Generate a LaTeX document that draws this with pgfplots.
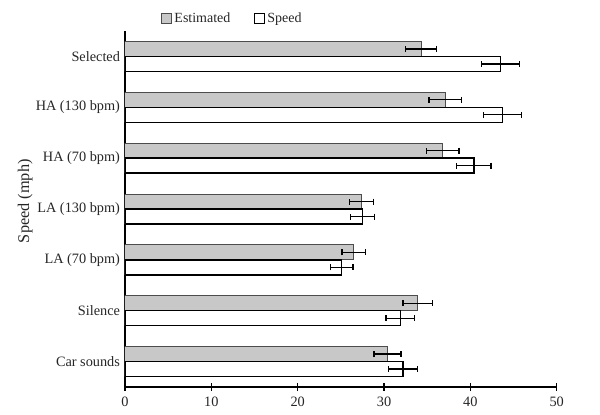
\documentclass[border=0pt]{standalone}
\usepackage{pgfplots}
\pgfplotsset{compat=1.18}
\usepackage{fontspec}
\setmainfont{Liberation Serif}
\definecolor{estgray}{RGB}{200,200,200}
\begin{document}
\begin{tikzpicture}
\begin{axis}[
  name=ax,
  at={(0,0)}, anchor=south west,
  width=431.7bp, height=356bp, scale only axis,
  xbar, bar width=15bp,
  xmin=0, xmax=50,
  ymin=-0.5, ymax=6.5,
  axis x line=bottom, axis y line=left,
  axis line style={-, line width=1.3bp},
  xtick={0,10,...,50},
  ytick={0,1,2,3,4,5,6},
  yticklabels={Car sounds,Silence,LA (70 bpm),LA (130 bpm),HA (70 bpm),HA (130 bpm),Selected},
  minor ytick={-0.5,0.5,...,6.5},
  ytick style={draw=none},
  minor tick length=6bp,
  major tick length=7bp,
  tick align=center,
  xtick style={line width=1.3bp, black},
  minor tick style={line width=1.3bp, black, draw},
  /pgf/number format/assume math mode=true,
  every tick label/.append style={font=\fontsize{14.3bp}{16bp}\selectfont, text=black!85},
  yticklabel style={xshift=2bp},
  xticklabel style={yshift=-3bp},
  ylabel={Speed (mph)},
  ylabel style={at={(axis description cs:-0.231,0.522)}, anchor=center, font=\fontsize{16.3bp}{18bp}\selectfont, text=black!85},
  legend columns=2,
  legend style={at={(rel axis cs:0.084,1.035)}, anchor=west, draw=none, fill=none, inner sep=0pt,
    font=\fontsize{14bp}{16bp}\selectfont, text=black!85,
    /tikz/every even column/.append style={column sep=22bp}},
  legend image code/.code={\draw[#1, line width=1bp] (0bp,-5bp) rectangle (10bp,5bp);},
  error bars/error bar style={line width=1.4bp, black},
  error bars/error mark options={rotate=90, mark size=3bp, line width=1.4bp, black},
]
\addplot+[bar shift=7.5bp, fill=estgray, draw=black!70, line width=1bp,
  error bars/.cd, x dir=both, x explicit]
  coordinates {
  (30.4,0) +- (1.55,0)
  (33.9,1) +- (1.7,0)
  (26.5,2) +- (1.35,0)
  (27.4,3) +- (1.4,0)
  (36.8,4) +- (1.9,0)
  (37.1,5) +- (1.9,0)
  (34.3,6) +- (1.8,0)
  };
\addlegendentry{Estimated}
\addplot+[bar shift=-7.5bp, fill=white, draw=black, line width=1.4bp,
  error bars/.cd, x dir=both, x explicit]
  coordinates {
  (32.2,0) +- (1.65,0)
  (31.9,1) +- (1.65,0)
  (25.1,2) +- (1.3,0)
  (27.5,3) +- (1.4,0)
  (40.4,4) +- (2.0,0)
  (43.7,5) +- (2.2,0)
  (43.5,6) +- (2.2,0)
  };
\addlegendentry{Speed}
\end{axis}
\path (ax.south west) ++(-125bp,-28bp) rectangle ++(600bp,415bp);
\end{tikzpicture}
\end{document}
